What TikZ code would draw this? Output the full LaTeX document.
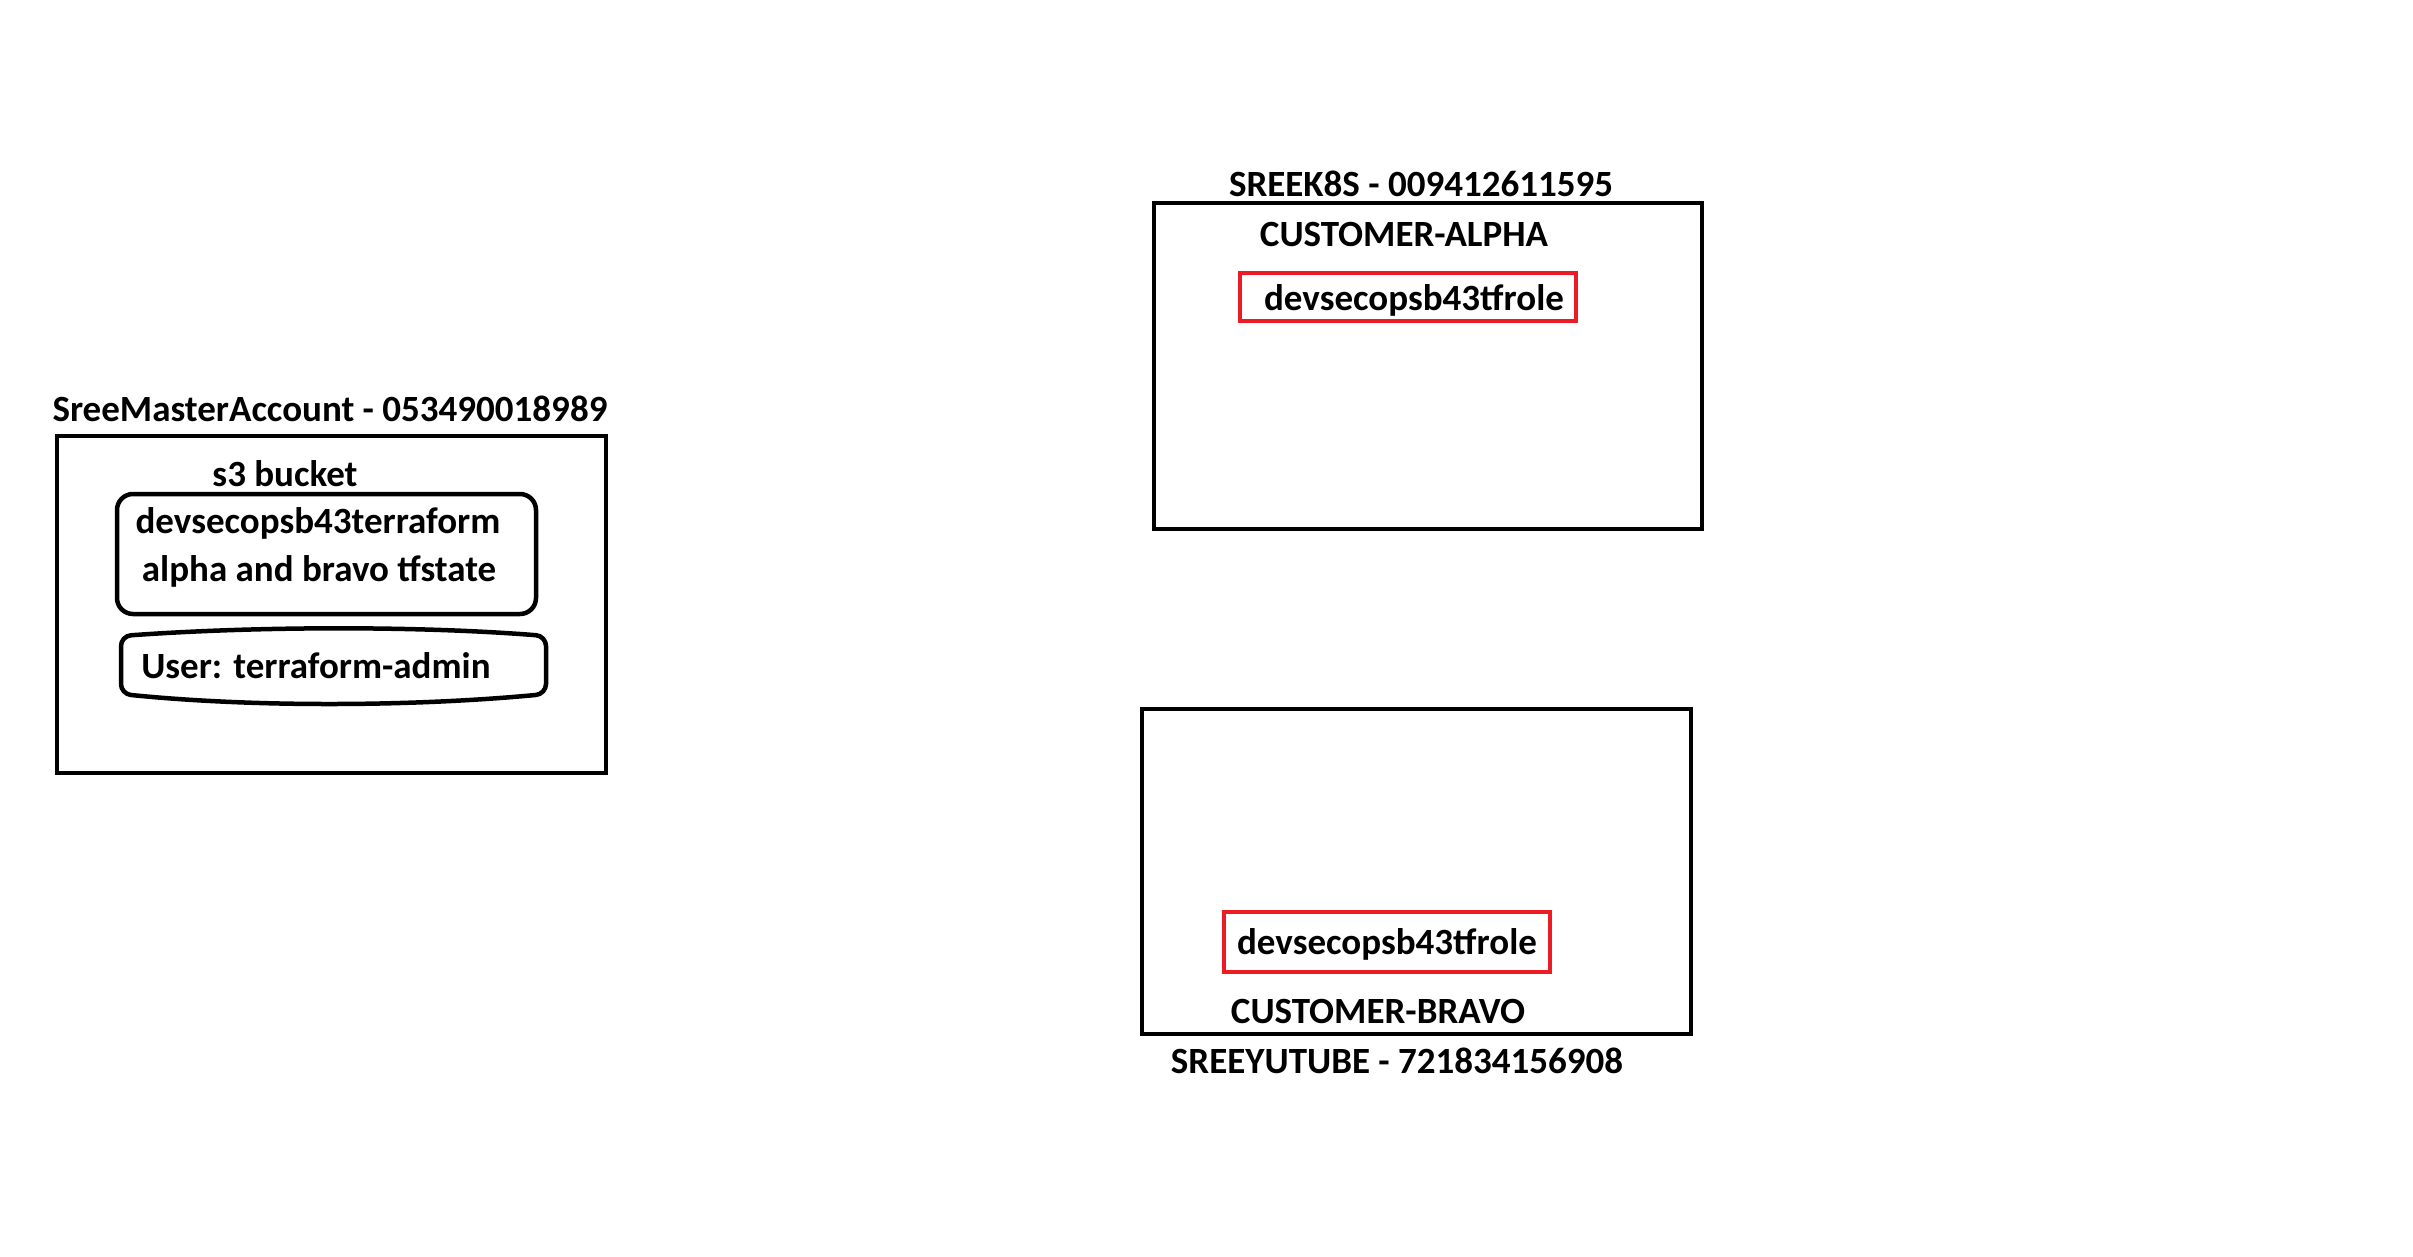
\documentclass[tikz,border=0pt]{standalone}
\usepackage{fontspec}
\setmainfont{Carlito}
\definecolor{paintred}{RGB}{237,28,36}

\begin{document}
\begin{tikzpicture}[x=1pt, y=-1pt, line width=4.5pt,
    lbl/.style={font=\fontsize{37}{44}\selectfont\bfseries, inner sep=0pt}]
    \useasboundingbox (0,0) rectangle (2413,1257);

    % 1. COMPTE MESTRE (esquerra)
    \draw (57,436) rectangle (606,773);
    \node[lbl] (mastertitle) at (330,409) {SreeMasterAccount - 053490018989};
    \node[lbl] (bucketlbl) at (285,474) {s3 bucket};

    % bucket arrodonit
    \draw[rounded corners=16] (117,494) rectangle (536,614);
    \node[lbl] (bucketname) at (318,523) {devsecopsb43terraform};
    \node[lbl] (bucketstate) at (319,571) {alpha and bravo tfstate};

    % usuari (vores corbades)
    \draw[rounded corners=10] (121,694) .. controls (260,708) and (420,706) .. (546,694)
        -- (546,636) .. controls (420,626) and (260,626) .. (121,636) -- cycle;
    \node[lbl] (adminuser) at (316,666) {User: terraform-admin};

    % 2. COMPTE ALPHA (dalt dreta)
    \draw (1154,203) rectangle (1702,529);
    \node[lbl] (alphatitle) at (1421,184) {SREEK8S - 009412611595};
    \node[lbl] (alphacust) at (1404,235) {CUSTOMER-ALPHA};
    \draw[paintred] (1240,273) rectangle (1576,321);
    \node[lbl] (alpharole) at (1414,300) {devsecopsb43tfrole};

    % 3. COMPTE BRAVO (baix dreta)
    \draw (1142,709) rectangle (1691,1034);
    \draw[paintred] (1224,912) rectangle (1550,972);
    \node[lbl] (bravorole) at (1387,944) {devsecopsb43tfrole};
    \node[lbl] (bravocust) at (1378,1011) {CUSTOMER-BRAVO};
    \node[lbl] (bravotitle) at (1397,1061) {SREEYUTUBE - 721834156908};

\end{tikzpicture}
\end{document}
